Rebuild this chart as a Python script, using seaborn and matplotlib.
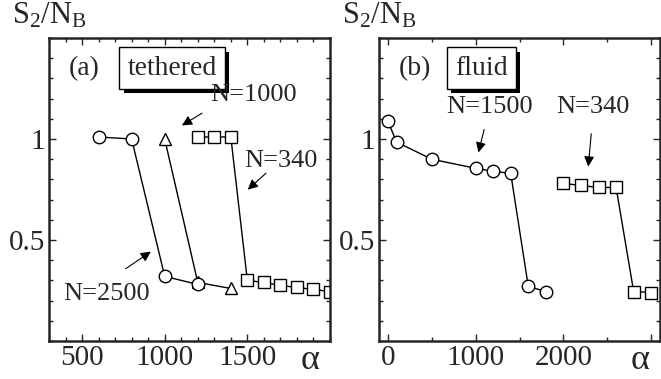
import matplotlib
matplotlib.use('Agg')
import matplotlib.pyplot as plt
import matplotlib.patheffects as pe
from matplotlib.ticker import MultipleLocator, FixedLocator
import seaborn as sns

# (a) tethered membrane
teth_n2500_x = [600, 800, 1000, 1200]
teth_n2500_y = [1.01, 1.00, 0.32, 0.28]
teth_n1000_x = [1000, 1200, 1400]
teth_n1000_y = [1.00, 0.29, 0.26]
teth_n340_x = [1200, 1300, 1400, 1500, 1600, 1700, 1800, 1900, 2000]
teth_n340_y = [1.01, 1.01, 1.01, 0.30, 0.29, 0.275, 0.265, 0.255, 0.245]

# (b) fluid membrane
fluid_n1500_x = [0, 100, 500, 1000, 1200, 1400, 1600, 1800]
fluid_n1500_y = [1.09, 0.985, 0.90, 0.855, 0.84, 0.83, 0.27, 0.245]
fluid_n340_x = [2000, 2200, 2400, 2600, 2800, 3000]
fluid_n340_y = [0.78, 0.77, 0.76, 0.76, 0.245, 0.24]

sns.set_style('ticks')
plt.rcParams['font.family'] = ['Liberation Serif', 'DejaVu Serif']
plt.rcParams['mathtext.fontset'] = 'custom'
plt.rcParams['mathtext.rm'] = 'Liberation Serif'
plt.rcParams['mathtext.it'] = 'Liberation Serif:italic'

fig = plt.figure(figsize=(6.61, 3.79), dpi=100)
ax_a = fig.add_axes([49 / 661, 38 / 379, 281 / 661, 303 / 379])
ax_b = fig.add_axes([379 / 661, 38 / 379, 281 / 661, 303 / 379])


def series(ax, x, y, marker, ms):
    sns.lineplot(x=x, y=y, ax=ax, sort=False, color='k', lw=1,
                 marker=marker, ms=ms, mfc='white', mec='k', mew=1)


def style_axes(ax):
    ax.set_ylim(0, 1.5)
    ax.yaxis.set_major_locator(FixedLocator([0.5, 1.0]))
    ax.set_yticklabels(['0.5', '1'])
    ax.yaxis.set_minor_locator(MultipleLocator(0.1))
    ax.tick_params(which='both', direction='in', top=True, right=True,
                   labelsize=21, width=1, pad=3)
    ax.tick_params(which='major', length=5)
    ax.tick_params(which='minor', length=3)
    for s in ax.spines.values():
        s.set_linewidth(1.8)
    ax.set_xlabel('')
    ax.set_ylabel('')
    ax.text(-0.13, 1.025, r'S$_\mathrm{2}$/N$_\mathrm{B}$', transform=ax.transAxes,
            fontsize=22, ha='left', va='bottom')
    ax.text(0.93, -0.12, '\u03b1', transform=ax.transAxes, fontsize=26,
            ha='center', va='bottom')


def label_box(ax, x, text):
    t = ax.text(x, 0.9, text, transform=ax.transAxes, fontsize=20,
                ha='left', va='center',
                bbox=dict(boxstyle='square,pad=0.3', fc='white', ec='k', lw=1))
    t.get_bbox_patch().set_path_effects(
        [pe.SimplePatchShadow(offset=(3, -3), shadow_rgbFace='k', alpha=1),
         pe.Normal()])


def arrow(ax, label, txy, start, end):
    ax.text(txy[0], txy[1], label, fontsize=19, ha='center', va='center')
    ax.annotate('', xy=end, xytext=start,
                arrowprops=dict(arrowstyle='-|>', color='k', lw=0.8,
                                mutation_scale=15))


# panel (a)
series(ax_a, teth_n1000_x, teth_n1000_y, '^', 9)
series(ax_a, teth_n2500_x, teth_n2500_y, 'o', 9)
series(ax_a, teth_n340_x, teth_n340_y, 's', 8.5)
ax_a.set_xlim(300, 2000)
ax_a.xaxis.set_major_locator(FixedLocator([500, 1000, 1500]))
ax_a.xaxis.set_minor_locator(MultipleLocator(100))
style_axes(ax_a)
ax_a.text(0.07, 0.9, '(a)', transform=ax_a.transAxes, fontsize=20, va='center')
label_box(ax_a, 0.28, 'tethered')
arrow(ax_a, 'N=1000', (1540, 1.22), (1240, 1.135), (1090, 1.06))
arrow(ax_a, 'N=340', (1700, 0.89), (1625, 0.84), (1490, 0.74))
arrow(ax_a, 'N=2500', (650, 0.235), (750, 0.35), (930, 0.45))

# panel (b)
series(ax_b, fluid_n1500_x, fluid_n1500_y, 'o', 9)
series(ax_b, fluid_n340_x, fluid_n340_y, 's', 8.5)
ax_b.set_xlim(-100, 3100)
ax_b.xaxis.set_major_locator(FixedLocator([0, 1000, 2000, 3000]))
ax_b.set_xticklabels(['0', '1000', '2000', ''])
ax_b.xaxis.set_minor_locator(MultipleLocator(500))
style_axes(ax_b)
ax_b.text(0.07, 0.9, '(b)', transform=ax_b.transAxes, fontsize=20, va='center')
label_box(ax_b, 0.27, 'fluid')
arrow(ax_b, 'N=1500', (1160, 1.16), (1105, 1.06), (1025, 0.92))
arrow(ax_b, 'N=340', (2340, 1.16), (2320, 1.04), (2280, 0.85))

fig.savefig('out.png', dpi=100)
